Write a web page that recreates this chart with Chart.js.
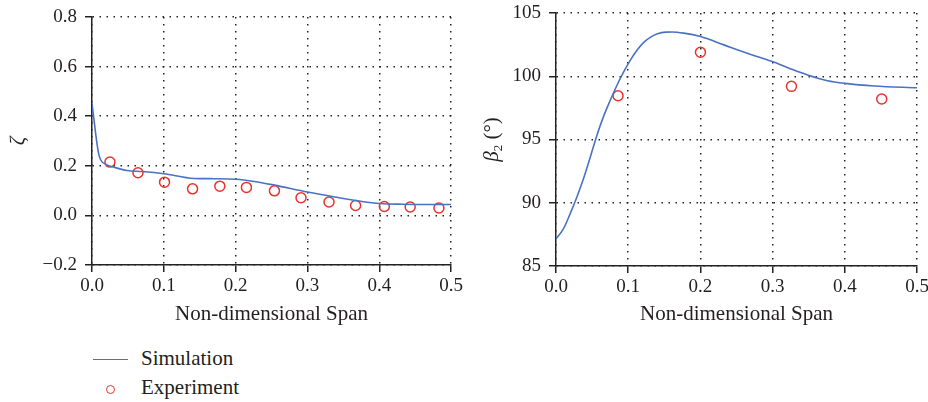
<!DOCTYPE html>
<html>
<head>
<meta charset="utf-8">
<script src="https://cdn.jsdelivr.net/npm/chart.js@4.4.0/dist/chart.umd.min.js"></script>
<style>
    body { margin: 0; background: #fff; width: 928px; height: 402px; position: relative; overflow: hidden;
           font-family: "Liberation Serif", serif; color: #231f20; }
    canvas { position: absolute; }
    #zetaChart { left: 0; top: -3px; }
    #betaChart { left: 464px; top: -7px; }
    .lg-line { position: absolute; left: 93px; top: 359px; width: 35px; border-top: 1.5px solid #4a72c2; }
    .lg-circle { position: absolute; left: 106px; top: 385px; width: 7px; height: 7px;
                 border: 1.5px solid #e8322b; border-radius: 50%; }
    .lg-label { position: absolute; left: 141px; font-size: 21px; line-height: 24px; white-space: nowrap; }
</style>
</head>
<body>
<canvas id="zetaChart" width="466" height="333"></canvas>
<canvas id="betaChart" width="468" height="337"></canvas>

<div class="lg-line"></div>
<div class="lg-label" style="top:346px">Simulation</div>
<div class="lg-circle"></div>
<div class="lg-label" style="top:375px">Experiment</div>

<script>
// left panel: loss coefficient zeta
const simSpanZeta = [0, 0.01, 0.02, 0.03, 0.049, 0.07, 0.1, 0.142, 0.17, 0.2, 0.226, 0.254, 0.3, 0.338, 0.376, 0.401, 0.432, 0.47, 0.5];
const simZeta     = [0.45, 0.24, 0.205, 0.195, 0.181, 0.177, 0.168, 0.149, 0.148, 0.146, 0.137, 0.122, 0.094, 0.074, 0.056, 0.048, 0.045, 0.044, 0.044];
const expSpanZeta = [0.025, 0.064, 0.101, 0.140, 0.178, 0.215, 0.254, 0.291, 0.330, 0.367, 0.407, 0.443, 0.483];
const expZeta     = [0.215, 0.172, 0.134, 0.107, 0.118, 0.113, 0.099, 0.071, 0.054, 0.040, 0.036, 0.034, 0.030];

// right panel: outlet angle beta2
const simSpanBeta = [0, 0.0102, 0.0195, 0.0288, 0.038, 0.0474, 0.0567, 0.066, 0.0753, 0.0846, 0.0939, 0.1032, 0.1126, 0.1219,
                     0.131, 0.1405, 0.152, 0.1607, 0.1769, 0.2, 0.2324, 0.2648, 0.2996, 0.325, 0.3482, 0.376, 0.4, 0.4407, 0.5];
const simBeta     = [87.14, 87.93, 89.12, 90.44, 91.9, 93.6, 95.34, 96.85, 98.12, 99.31, 100.36, 101.29, 102.09, 102.7,
                     103.09, 103.36, 103.49, 103.5, 103.41, 103.14, 102.48, 101.82, 101.16, 100.58, 100.1, 99.65, 99.44, 99.23, 99.09];
const expSpanBeta = [0.0859, 0.2, 0.326, 0.451];
const expBeta     = [98.46, 101.9, 99.2, 98.2];

const textColor = '#231f20';
const gridColor = '#222';
const serif = '"Liberation Serif", "Times New Roman", serif';

function toPoints(xs, ys) {
    return xs.map((x, i) => ({ x: x, y: ys[i] }));
}

function baseScale(min, max, step, fmt, fit) {
    return {
        type: 'linear',
        min: min,
        max: max,
        ticks: {
            stepSize: step,
            color: textColor,
            font: { family: serif, size: 19 },
            callback: fmt
        },
        grid: {
            color: gridColor,
            lineWidth: 1.5,
            tickLength: 7,
            tickColor: gridColor,
            tickWidth: 1.5,
            tickBorderDash: []
        },
        border: { display: true, color: gridColor, width: 1.5, dash: [1.5, 5.5] },
        afterFit: fit
    };
}

function makeChart(canvasId, series, yCfg, pad, xHeight, yTitle, extraPlugins) {
    const ctx = document.getElementById(canvasId);
    const xScale = baseScale(0, 0.5, 0.1, v => v.toFixed(1), s => { s.height = xHeight; });
    xScale.ticks.padding = 3;
    xScale.title = {
        display: true,
        text: 'Non-dimensional Span',
        color: textColor,
        font: { family: serif, size: 21 },
        padding: { top: 0, bottom: 3 }
    };
    const yScale = baseScale(yCfg.min, yCfg.max, yCfg.step, yCfg.fmt, s => { s.width = 92; });
    yScale.ticks.padding = 8;
    if (yTitle) yScale.title = yTitle;

    return new Chart(ctx, {
        type: 'scatter',
        data: {
            datasets: [{
                label: 'Simulation',
                data: toPoints(series.simX, series.simY),
                showLine: true,
                borderColor: '#4a72c2',
                borderWidth: 1.6,
                pointRadius: 0,
                cubicInterpolationMode: 'monotone'
            }, {
                label: 'Experiment',
                data: toPoints(series.expX, series.expY),
                pointStyle: 'circle',
                pointRadius: 5,
                borderColor: '#e8322b',
                borderWidth: 1.5,
                backgroundColor: 'rgba(0,0,0,0)'
            }]
        },
        options: {
            responsive: false,
            animation: false,
            layout: { padding: pad },
            plugins: { legend: { display: false }, tooltip: { enabled: false } },
            scales: { x: xScale, y: yScale }
        },
        plugins: extraPlugins || []
    });
}

// beta_2 (deg) axis label with italic beta and a subscript
const betaTitle = {
    id: 'betaTitle',
    afterDraw(chart) {
        const c = chart.ctx, a = chart.chartArea;
        const parts = [
            { t: 'β', f: 'italic 21px ' + serif, dy: 0 },
            { t: '2', f: '13px ' + serif, dy: 4 },
            { t: ' (°)', f: '21px ' + serif, dy: 0 }
        ];
        c.save();
        c.translate(34, (a.top + a.bottom) / 2);
        c.rotate(-Math.PI / 2);
        c.fillStyle = textColor;
        c.textBaseline = 'alphabetic';
        let total = 0;
        parts.forEach(p => { c.font = p.f; p.w = c.measureText(p.t).width; total += p.w; });
        let x = -total / 2;
        parts.forEach(p => { c.font = p.f; c.fillText(p.t, x, p.dy); x += p.w; });
        c.restore();
    }
};

makeChart('zetaChart',
    { simX: simSpanZeta, simY: simZeta, expX: expSpanZeta, expY: expZeta },
    { min: -0.2, max: 0.8, step: 0.2, fmt: v => (v < 0 ? '\u2212' + Math.abs(v).toFixed(1) : v.toFixed(1)) },
    { left: 0, top: 20, right: 4, bottom: 0 }, 65,
    { display: true, text: 'ζ', color: textColor, font: { family: serif, size: 21, style: 'italic' }, padding: { top: 6, bottom: 0 } });

makeChart('betaChart',
    { simX: simSpanBeta, simY: simBeta, expX: expSpanBeta, expY: expBeta },
    { min: 85, max: 105, step: 5, fmt: v => v.toFixed(0) },
    { left: 0, top: 20, right: 4, bottom: 0 }, 64,
    null, [betaTitle]);
</script>
</body>
</html>
